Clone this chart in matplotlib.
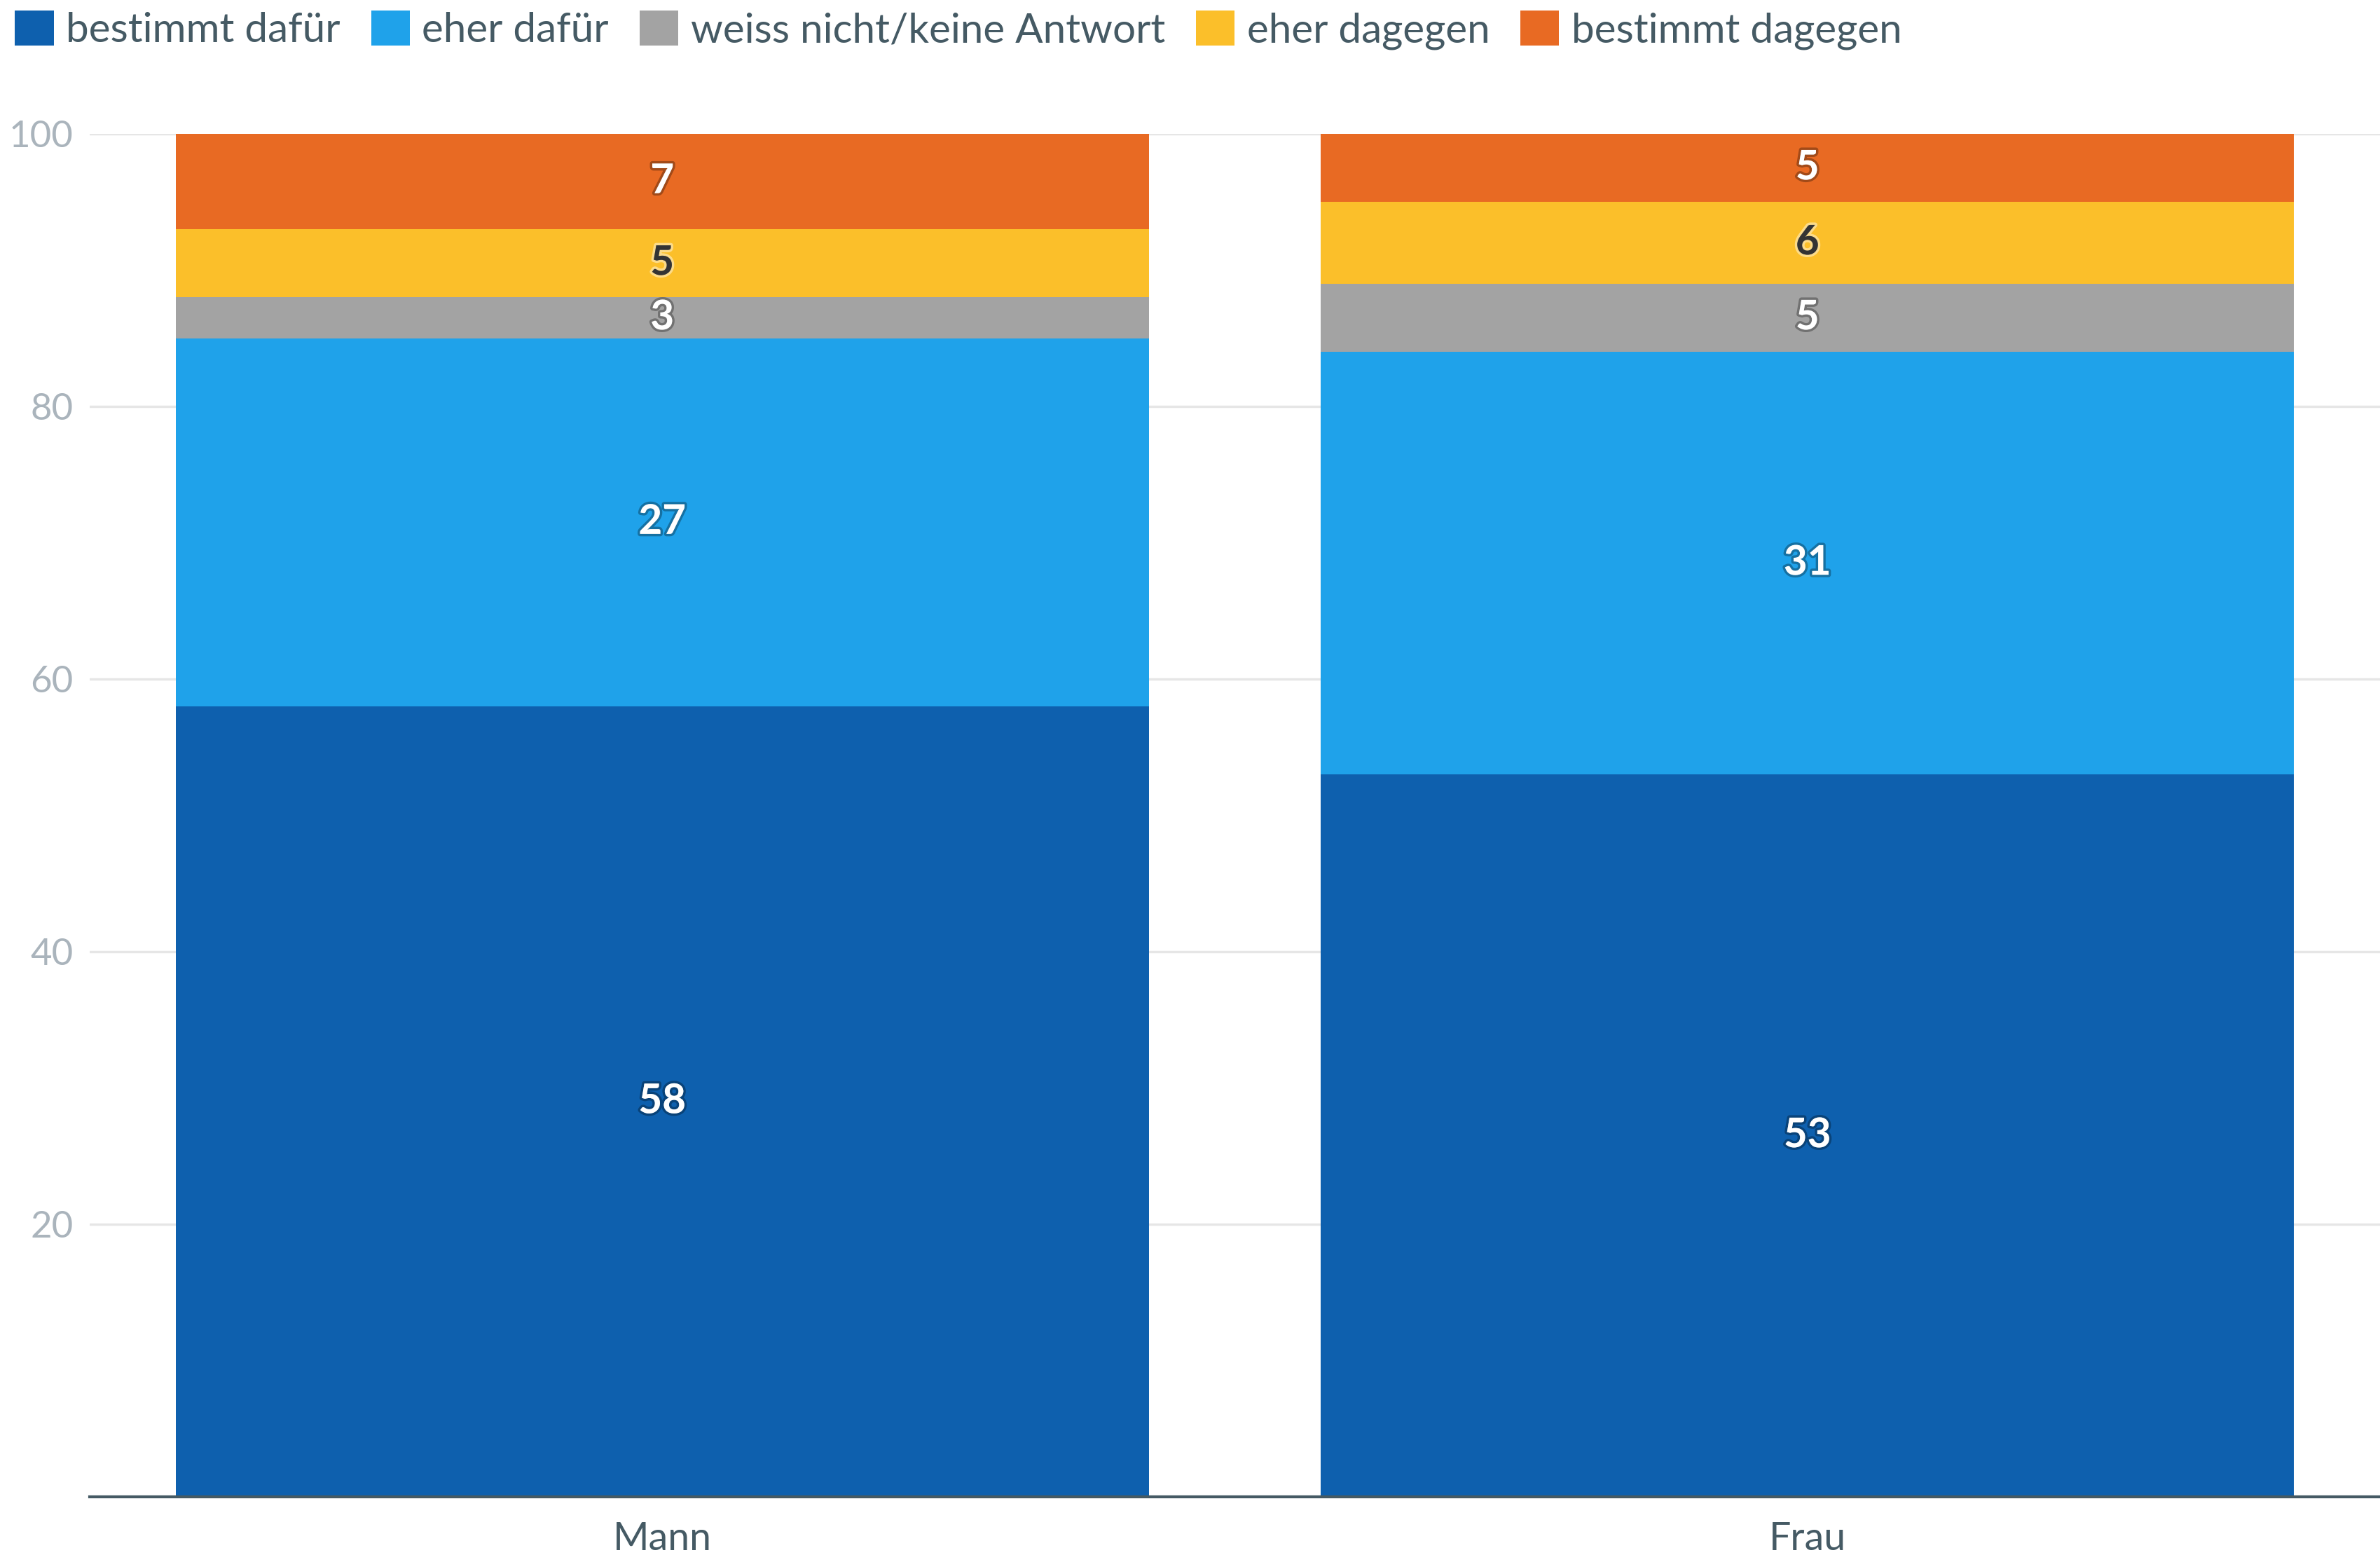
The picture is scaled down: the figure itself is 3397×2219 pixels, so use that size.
import matplotlib
matplotlib.use('Agg')
import matplotlib.pyplot as plt
import matplotlib.patheffects as pe
from matplotlib.patches import Patch

plt.rcParams['font.family'] = ['Lato', 'DejaVu Sans']

groups = ['Mann', 'Frau']
series = ['bestimmt dafür', 'eher dafür', 'weiss nicht/keine Antwort', 'eher dagegen', 'bestimmt dagegen']
bestimmt_dafuer = [58, 53]
eher_dafuer = [27, 31]
weiss_nicht = [3, 5]
eher_dagegen = [5, 6]
bestimmt_dagegen = [7, 5]
values = [bestimmt_dafuer, eher_dafuer, weiss_nicht, eher_dagegen, bestimmt_dagegen]
colors = ['#0e60ae', '#1fa2ea', '#a3a3a3', '#fbbf2a', '#e86a23']
yticks = [20, 40, 60, 80, 100]

fig = plt.figure(figsize=(33.97, 22.19), dpi=100)
ax = fig.add_axes([128 / 3397, 1 - 2136 / 2219, 1 - 128 / 3397, (2136 - 191) / 2219])

x = list(range(len(groups)))
bottom = [0] * len(groups)
for name, vals, col in zip(series, values, colors):
    ax.bar(x, vals, width=0.85, bottom=bottom, color=col, zorder=2, linewidth=0)
    for i, v in enumerate(vals):
        if col == '#fbbf2a':
            tc, glow = '#333333', (1, 1, 1, 0.45)
        else:
            tc, glow = 'white', (0, 0, 0, 0.3)
        ax.text(x[i], bottom[i] + v / 2, str(v), ha='center', va='center',
                fontsize=42, fontweight='bold', color=tc, zorder=3,
                path_effects=[pe.withStroke(linewidth=5, foreground=glow)])
    bottom = [b + v for b, v in zip(bottom, vals)]

ax.set_xlim(-0.5, 1.5)
ax.set_ylim(0, 100)
ax.set_yticks(yticks)
ax.set_yticklabels([str(t) for t in yticks])
ax.set_xticks(x)
ax.set_xticklabels(groups)
ax.grid(axis='y', color='#e6e6e6', linewidth=2.5, zorder=0)
for s in ['top', 'right', 'left']:
    ax.spines[s].set_visible(False)
ax.spines['bottom'].set_color('#455a64')
ax.spines['bottom'].set_linewidth(3)
ax.spines['bottom'].set_zorder(4)
ax.tick_params(axis='y', length=0, pad=17, labelsize=38, labelcolor='#aab4bc')
ax.tick_params(axis='x', length=0, pad=25, labelsize=40, labelcolor='#455a64')

handles = [Patch(facecolor=c, edgecolor='none') for c in colors]
fig.legend(handles, series, loc='upper left', bbox_to_anchor=(-0.004, 1.009), ncol=5,
           frameon=False, fontsize=42, labelcolor='#455a64', handlelength=0.95,
           handleheight=0.95, handletextpad=0.3, columnspacing=0.75, borderaxespad=0.2)

fig.savefig('out.png', dpi=100, facecolor='white')
